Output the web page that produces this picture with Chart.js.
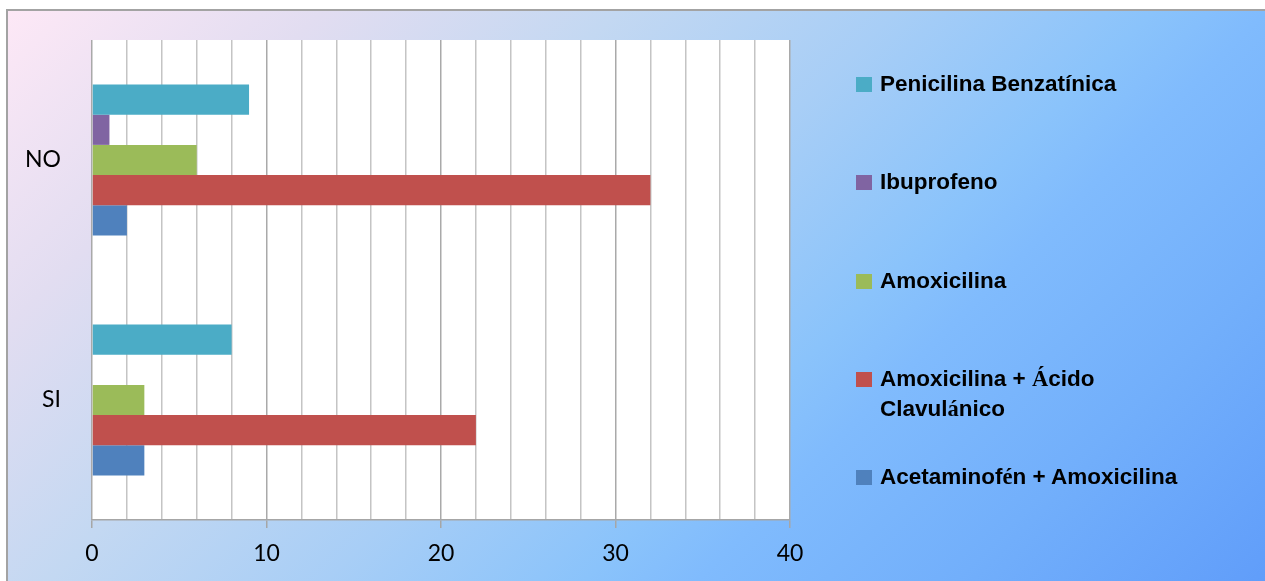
<!DOCTYPE html>
<html>
<head>
<meta charset="utf-8">
<script src="https://cdn.jsdelivr.net/npm/chart.js@4.4.1/dist/chart.umd.min.js"></script>
<style>
  html, body { margin: 0; padding: 0; background: #fff; }
  #wrap { position: relative; width: 1265px; height: 581px; overflow: hidden; }
  #frame {
    position: absolute; left: 6px; top: 9px; width: 1270px; height: 580px;
    border-top: 2px solid #a3a3a3; border-left: 2px solid #a3a3a3;
    background: linear-gradient(135deg, #fde8f6 0%, #e2ddf1 17%, #c3d8f2 33%, #a8cef6 48%, #8ac3fb 62%, #80bbfd 68%, #72affb 82%, #5f9cfa 100%);
  }
  #chart { position: absolute; left: 0; top: 0; }
  #legend { position: absolute; left: 0; top: 0; }
  .item { position: absolute; left: 856px; font-family: "Liberation Sans", Arial, sans-serif; font-weight: bold; font-size: 22.5px; line-height: 30px; color: #000; white-space: nowrap; }
  .item i { position: absolute; left: 0; top: 8px; width: 16px; height: 15px; }
  .item span { display: block; margin-left: 24px; }
  .serif { font-family: "Liberation Serif", "DejaVu Serif", serif; }
</style>
</head>
<body>
<div id="wrap">
  <div id="frame"></div>
  <canvas id="chart" width="1265" height="581"></canvas>
  <div id="legend"></div>
</div>
<script>
// answers per group, top group first
const categories = ['NO', 'SI'];
const seriesNames = [
  'Penicilina Benzatínica',
  'Ibuprofeno',
  'Amoxicilina',
  'Amoxicilina +  Ácido\nClavulánico',
  'Acetaminofén + Amoxicilina'
];
const seriesColors = ['#4bacc6', '#8064a2', '#9bbb59', '#c0504d', '#4f81bd'];
const penicilina = [9, 8];
const ibuprofeno = [1, 0];
const amoxicilina = [6, 3];
const amoxAcido = [32, 22];
const acetaminofen = [2, 3];
const seriesValues = [penicilina, ibuprofeno, amoxicilina, amoxAcido, acetaminofen];
const xTicks = [0, 10, 20, 30, 40];

// white plot background
const plotBg = {
  id: 'plotBg',
  beforeDraw(chart) {
    const a = chart.chartArea, c = chart.ctx;
    c.save();
    c.fillStyle = '#ffffff';
    c.fillRect(a.left, a.top, a.right - a.left, a.bottom - a.top);
    c.restore();
  }
};

const isMajor = v => xTicks.includes(v);

new Chart(document.getElementById('chart'), {
  type: 'bar',
  data: {
    labels: categories,
    datasets: seriesNames.map((name, i) => ({
      label: name,
      data: seriesValues[i],
      backgroundColor: seriesColors[i],
      borderWidth: 0,
      barPercentage: 1,
      categoryPercentage: 0.63
    }))
  },
  options: {
    indexAxis: 'y',
    responsive: false,
    animation: false,
    layout: { padding: { left: 0, top: 40, right: 475, bottom: 0 } },
    plugins: { legend: { display: false }, tooltip: { enabled: false } },
    scales: {
      x: {
        min: 0,
        max: 40,
        afterFit(scale) { scale.height = 61; scale.paddingLeft = 0; scale.paddingRight = 0; },
        border: { color: '#a6a6a6', width: 1.5 },
        grid: {
          color: ctx => isMajor(ctx.tick.value) ? '#a9a9a9' : '#c4c4c4',
          lineWidth: 1.5,
          tickLength: 8,
          tickColor: ctx => isMajor(ctx.tick.value) ? '#a6a6a6' : 'rgba(0,0,0,0)'
        },
        ticks: {
          stepSize: 2,
          autoSkip: false,
          maxRotation: 0,
          padding: 12,
          color: '#000',
          font: { family: 'Lato', size: 23 },
          callback: v => isMajor(v) ? String(v) : ''
        }
      },
      y: {
        afterFit(scale) { scale.width = 92; scale.paddingTop = 0; scale.paddingBottom = 0; },
        border: { display: false },
        grid: { display: false, drawTicks: false },
        ticks: {
          padding: 31,
          color: '#000',
          font: { family: 'Lato', size: 23 }
        }
      }
    }
  },
  plugins: [plotBg]
});

// legend on the right, one row per series
const legend = document.getElementById('legend');
seriesNames.forEach((name, i) => {
  const item = document.createElement('div');
  item.className = 'item';
  item.style.top = (69 + i * 98.3) + 'px';
  const box = document.createElement('i');
  box.style.background = seriesColors[i];
  const text = document.createElement('span');
  text.innerHTML = name.split('\n').join('<br>').replace(/([Ááé])/g, '<span class="serif" style="display:inline;margin:0">$1</span>');
  item.appendChild(box);
  item.appendChild(text);
  legend.appendChild(item);
});
</script>
</body>
</html>
